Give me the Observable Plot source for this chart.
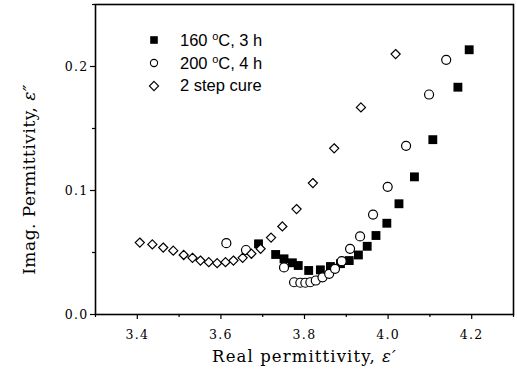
<!DOCTYPE html>
<html>
<head>
<meta charset="utf-8">
<script src="https://cdn.jsdelivr.net/npm/d3@7"></script>
<script src="https://cdn.jsdelivr.net/npm/@observablehq/plot@0.6"></script>
<style>
  body { margin: 0; background: #fff; }
  #wrap { position: relative; width: 517px; height: 376px; }
  #legend { position: absolute; left: 146px; top: 28px; font-family: "Liberation Sans", Arial, sans-serif; font-size: 16.5px; color: #000; }
  #legend .row { display: flex; align-items: center; height: 23px; }
  #legend svg { width: 16px; height: 16px; margin-right: 18px; }
  #legend sup { font-size: 11px; vertical-align: 6px; }
  g[aria-label="x-axis tick label"] text, g[aria-label="y-axis tick label"] text { letter-spacing: 1.3px; }
  .xlab text { letter-spacing: 1.1px; }
  .ylab text { letter-spacing: 0.5px; }
</style>
</head>
<body>
<div id="wrap">
  <div id="legend"></div>
</div>
<script>
// Series: 160 °C, 3 h (filled squares)
const s160x = [3.690, 3.731, 3.751, 3.771, 3.785, 3.810, 3.838, 3.862, 3.886, 3.907, 3.929, 3.950, 3.971, 3.997, 4.026, 4.063, 4.107, 4.167, 4.194];
const s160y = [0.057, 0.0484, 0.0449, 0.0417, 0.0395, 0.0355, 0.036, 0.0387, 0.041, 0.0435, 0.048, 0.055, 0.0637, 0.0736, 0.0893, 0.111, 0.141, 0.1833, 0.2135];
// Series: 200 °C, 4 h (open circles)
const s200x = [3.613, 3.660, 3.751, 3.775, 3.790, 3.802, 3.814, 3.827, 3.843, 3.859, 3.873, 3.889, 3.909, 3.933, 3.964, 3.999, 4.043, 4.098, 4.139];
const s200y = [0.0575, 0.052, 0.038, 0.026, 0.0256, 0.0256, 0.026, 0.0274, 0.030, 0.0328, 0.0368, 0.043, 0.053, 0.063, 0.0806, 0.103, 0.136, 0.1774, 0.2054];
// Series: 2 step cure (open diamonds)
const s2x = [3.406, 3.436, 3.462, 3.486, 3.511, 3.532, 3.551, 3.571, 3.591, 3.611, 3.630, 3.652, 3.673, 3.695, 3.720, 3.747, 3.781, 3.820, 3.871, 3.935, 4.018];
const s2y = [0.058, 0.0565, 0.054, 0.0515, 0.048, 0.0457, 0.0435, 0.0422, 0.0414, 0.0422, 0.0435, 0.0457, 0.049, 0.053, 0.062, 0.071, 0.085, 0.106, 0.134, 0.167, 0.21];

const xTicks = [3.4, 3.6, 3.8, 4.0, 4.2];
const xMinor = [3.3, 3.5, 3.7, 3.9, 4.1, 4.3];
const yTicks = [0.0, 0.1, 0.2];
const yMinor = [0.05, 0.15, 0.25];
const seriesNames = ["160 °C, 3 h", "200 °C, 4 h", "2 step cure"];
const xLabel = "Real permittivity, ε′";
const yLabel = "Imag. Permittivity, ε″";

const zip = (xs, ys) => xs.map((x, i) => ({x, y: ys[i]}));
const d160 = zip(s160x, s160y), d200 = zip(s200x, s200y), d2 = zip(s2x, s2y);
const serif = "DejaVu Serif, serif";

const chart = Plot.plot({
  width: 517,
  height: 376,
  marginLeft: 95,
  marginRight: 4,
  marginTop: 4,
  marginBottom: 62,
  style: {background: "white", color: "black"},
  x: {domain: [3.3, 4.3]},
  y: {domain: [0, 0.25]},
  marks: [
    Plot.axisX({ticks: xTicks, tickFormat: d3.format(".1f"), tickSize: 5, tickPadding: 11, label: null, fontFamily: serif, fontSize: 12.5, strokeWidth: 1.2}),
    Plot.axisX({ticks: xMinor, tickSize: 3, text: null, label: null, strokeWidth: 1.2}),
    Plot.axisY({ticks: yTicks, tickFormat: d3.format(".1f"), tickSize: 5, tickPadding: 2, label: null, fontFamily: serif, fontSize: 12.5, strokeWidth: 1.2}),
    Plot.axisY({ticks: yMinor, tickSize: 3, text: null, label: null, strokeWidth: 1.2}),
    Plot.frame({stroke: "black", strokeWidth: 1.6}),
    Plot.dot(d160, {x: "x", y: "y", symbol: "square", r: 5.0, fill: "black", stroke: "none"}),
    Plot.dot(d200, {x: "x", y: "y", symbol: "circle", r: 4.5, fill: "white", stroke: "black", strokeWidth: 1.2}),
    Plot.dot(d2, {x: "x", y: "y", symbol: "diamond2", r: 4.1, fill: "white", stroke: "black", strokeWidth: 1.2}),
    Plot.text([xLabel], {frameAnchor: "bottom", textAnchor: "middle", dy: 47, fontSize: 16.5, fontFamily: serif, className: "xlab"}),
    Plot.text([yLabel], {frameAnchor: "left", textAnchor: "middle", rotate: -90, dx: -66, dy: 20, fontSize: 17, fontFamily: serif, className: "ylab"})
  ]
});

// italic epsilon in axis labels
chart.querySelectorAll("text").forEach(t => {
  const s = t.textContent;
  if (s === xLabel || s === yLabel) {
    const i = s.indexOf("ε");
    t.textContent = "";
    const a = document.createElementNS("http://www.w3.org/2000/svg", "tspan");
    a.textContent = s.slice(0, i);
    const b = document.createElementNS("http://www.w3.org/2000/svg", "tspan");
    b.textContent = s.slice(i);
    b.setAttribute("font-style", "italic");
    t.append(a, b);
  }
});

document.getElementById("wrap").prepend(chart);

// legend
const sym = [
  '<svg viewBox="-8 -8 16 16"><rect x="-3.8" y="-3.8" width="7.6" height="7.6" fill="black"/></svg>',
  '<svg viewBox="-8 -8 16 16"><circle r="3.6" fill="white" stroke="black" stroke-width="1.1"/></svg>',
  '<svg viewBox="-8 -8 16 16"><path d="M0,-4.6L4.6,0L0,4.6L-4.6,0Z" fill="white" stroke="black" stroke-width="1.1"/></svg>'
];
const legendLabels = ["160 <sup>o</sup>C, 3 h", "200 <sup>o</sup>C, 4 h", "2 step cure"];
const leg = document.getElementById("legend");
seriesNames.forEach((name, i) => {
  const row = document.createElement("div");
  row.className = "row";
  row.title = name;
  row.innerHTML = sym[i] + "<span>" + legendLabels[i] + "</span>";
  leg.appendChild(row);
});
</script>
</body>
</html>
